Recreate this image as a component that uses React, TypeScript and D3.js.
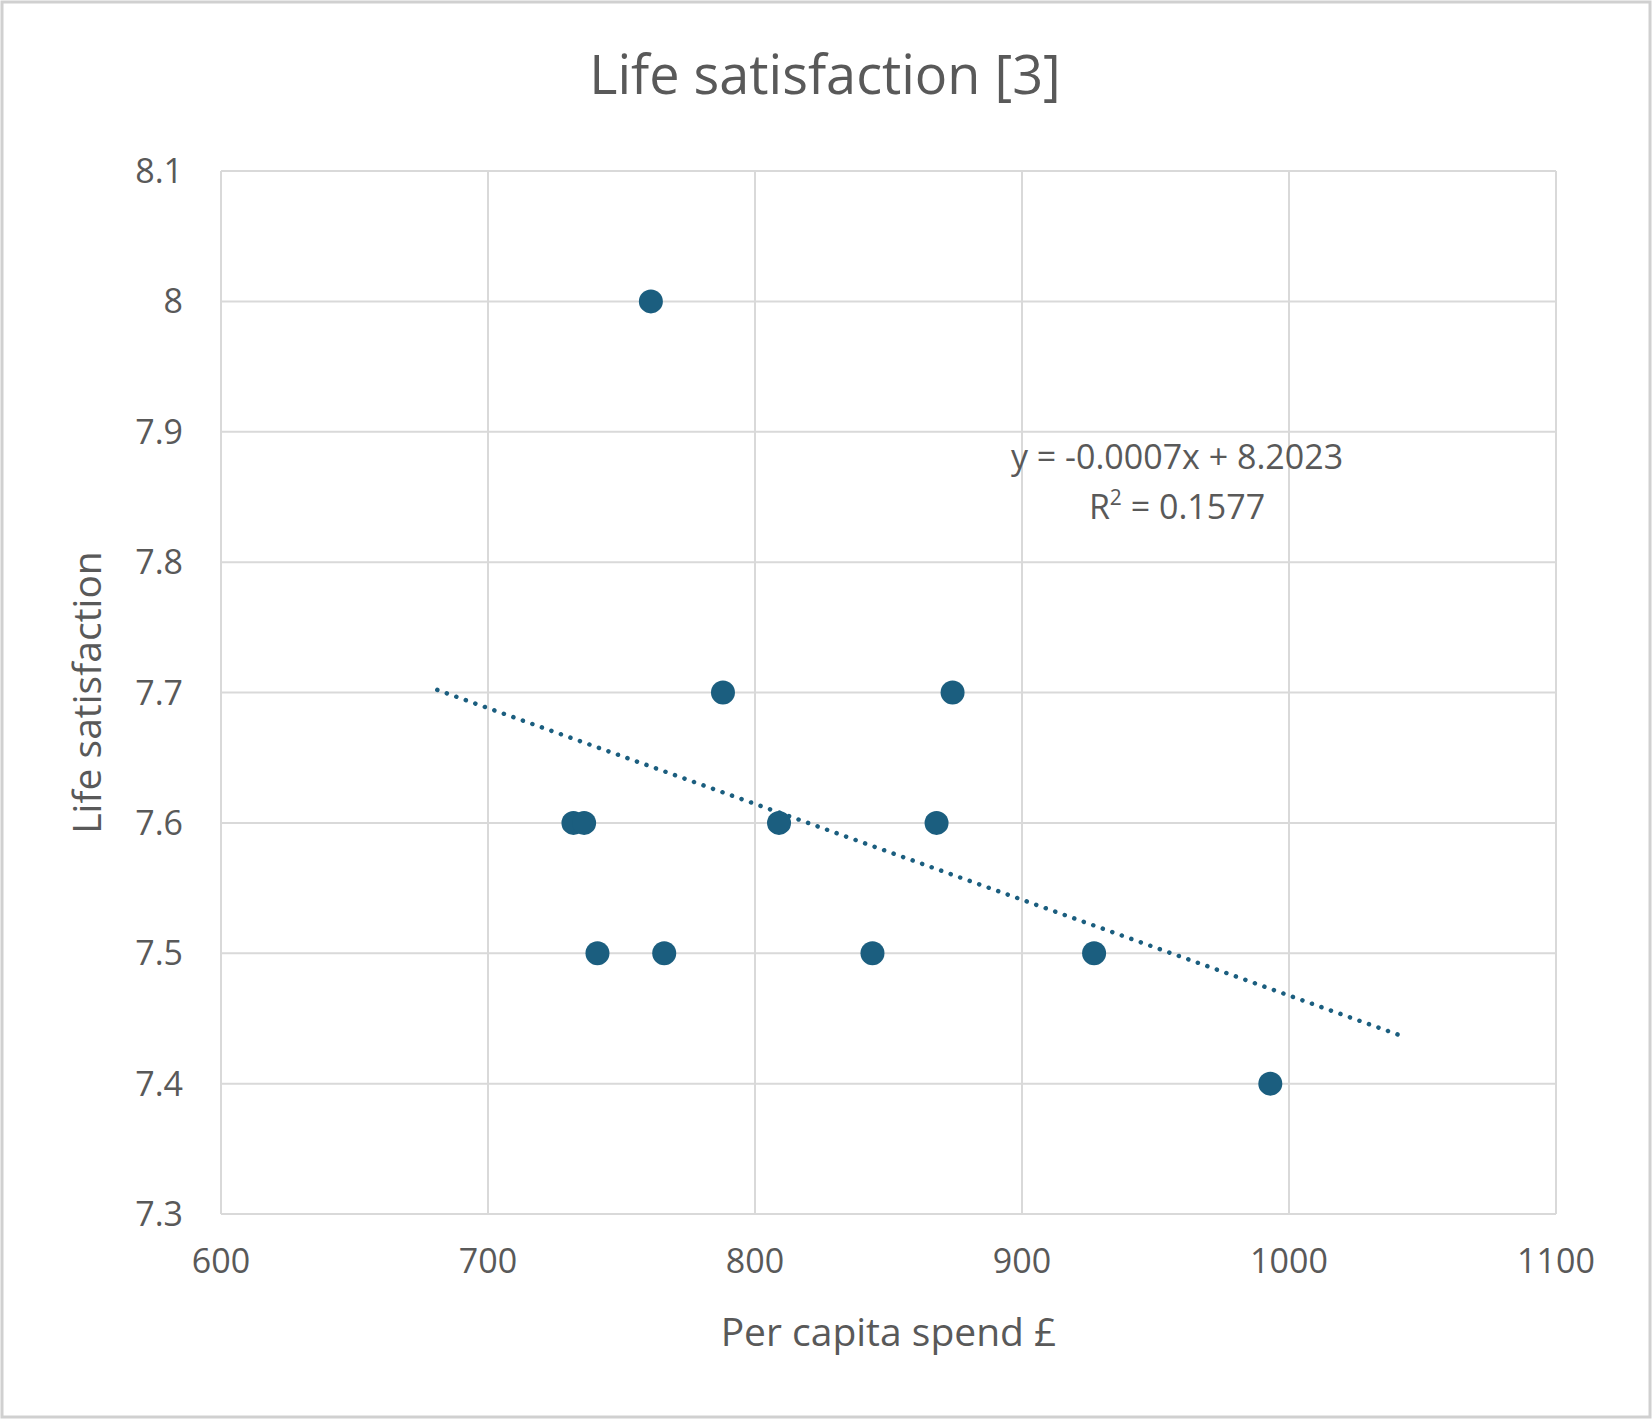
import * as d3 from 'd3'

const spend = [761, 788, 874, 732, 736, 809, 868, 741, 766, 844, 927, 993]
const satisfaction = [8.0, 7.7, 7.7, 7.6, 7.6, 7.6, 7.6, 7.5, 7.5, 7.5, 7.5, 7.4]
const trendX = [681, 1043]
const trendY = [7.702, 7.436]
const xTicks = [600, 700, 800, 900, 1000, 1100]
const yTicks = [7.3, 7.4, 7.5, 7.6, 7.7, 7.8, 7.9, 8.0, 8.1]

const W = 1652
const H = 1419
const m = { left: 221, right: 1556, top: 171, bottom: 1214 }
const font = 'Aptos, "Open Sans", "Noto Sans", sans-serif'
const txt = '#595959'
const dot = '#1b5e7f'

const App = () => {
  const x = d3.scaleLinear().domain([600, 1100]).range([m.left, m.right])
  const y = d3.scaleLinear().domain([7.3, 8.1]).range([m.bottom, m.top])
  const trend = d3.line<number>().x(d => x(trendX[d])).y(d => y(trendY[d]))([0, 1])

  return (
    <svg width={W} height={H} style={{ display: 'block', position: 'absolute', left: 0, top: 0 }} fontFamily={font}>
      <rect x={2} y={2} width={W - 4} height={H - 4} fill="#fff" stroke="#d0d0d0" strokeWidth={3} />
      <text x={W / 2 - 1} y={94} textAnchor="middle" fontSize={54} fill={txt}>Life satisfaction [3]</text>
      {yTicks.map(t => (
        <g key={t}>
          <line x1={m.left} x2={m.right} y1={y(t)} y2={y(t)} stroke="#d9d9d9" strokeWidth={2} />
          <text x={m.left - 38} y={y(t) + 12} textAnchor="end" fontSize={34} fill={txt}>{d3.format('~g')(t)}</text>
        </g>
      ))}
      {xTicks.map(t => (
        <g key={t}>
          <line x1={x(t)} x2={x(t)} y1={m.top} y2={m.bottom} stroke="#d9d9d9" strokeWidth={2} />
          <text x={x(t)} y={m.bottom + 59} textAnchor="middle" fontSize={34} fill={txt}>{t}</text>
        </g>
      ))}
      <text x={(m.left + m.right) / 2} y={1346} textAnchor="middle" fontSize={39} fill={txt}>Per capita spend £</text>
      <text transform={`translate(101,${(m.top + m.bottom) / 2}) rotate(-90)`} textAnchor="middle" fontSize={39} fill={txt}>Life satisfaction</text>
      <path d={trend ?? ''} fill="none" stroke={dot} strokeWidth={4.5} strokeDasharray="0.1 10" strokeLinecap="round" />
      {spend.map((s, i) => (
        <circle key={i} cx={x(s)} cy={y(satisfaction[i])} r={12} fill={dot} />
      ))}
      <text x={1177} y={469} textAnchor="middle" fontSize={34} fill={txt}>y = -0.0007x + 8.2023</text>
      <text x={1177} y={519} textAnchor="middle" fontSize={34} fill={txt}>
        R<tspan dy={-14} fontSize={21}>2</tspan><tspan dy={14}> = 0.1577</tspan>
      </text>
    </svg>
  )
}

export default App
